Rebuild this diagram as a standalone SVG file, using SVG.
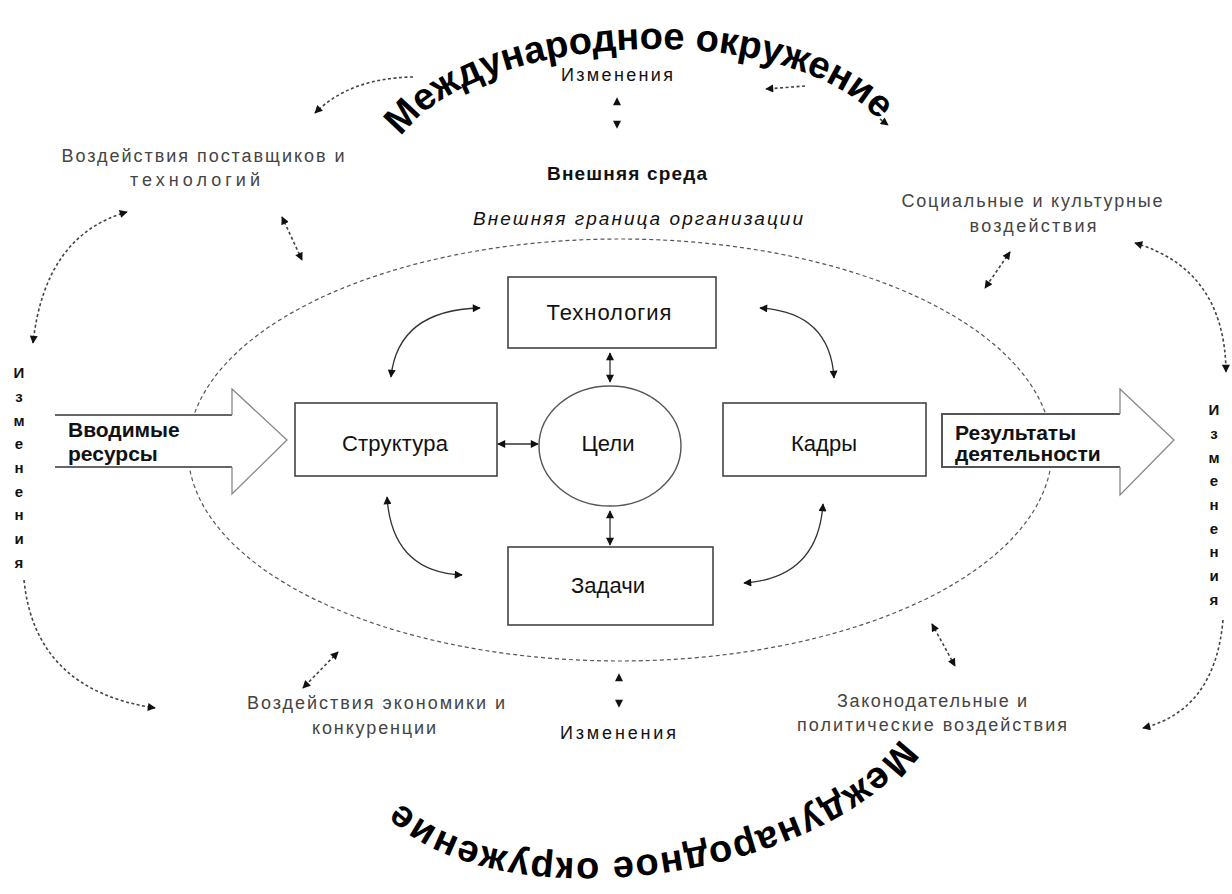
<svg xmlns="http://www.w3.org/2000/svg" width="1232" height="894" viewBox="0 0 1232 894">
<style>
.t{font-family:"Liberation Sans",Arial,sans-serif;fill:#111}
.g{font-family:"Liberation Sans",Arial,sans-serif;fill:#444;font-size:18px}
.m{text-anchor:middle}
.box{fill:#fff;stroke:#444;stroke-width:1.6}
.sol{fill:none;stroke:#333;stroke-width:1.3}
.dsh{fill:none;stroke:#444;stroke-width:1.6;stroke-dasharray:3 2.5}
.arc{font-family:"Liberation Sans",Arial,sans-serif;font-weight:bold;font-size:38px;fill:#000}
.v{font-family:"Liberation Sans",Arial,sans-serif;font-weight:bold;font-size:15px;fill:#111;text-anchor:middle}
.lbl{font-family:"Liberation Sans",Arial,sans-serif;font-size:22px;fill:#111;text-anchor:middle}
.io{font-family:"Liberation Sans",Arial,sans-serif;font-size:21px;font-weight:bold;fill:#111}
</style>
<defs>
<marker id="ah" viewBox="0 0 10 10" refX="9" refY="5" markerWidth="9" markerHeight="8" markerUnits="userSpaceOnUse" orient="auto-start-reverse"><path d="M0,0 L10,5 L0,10 z" fill="#111"/></marker>
<path id="topArc" d="M 401 137 C 479 27 802 16 884 127"/>
<path id="botArc" d="M 900 738 C 818 860 481 910 388 788"/>
</defs>
<rect width="1232" height="894" fill="#fff"/>

<g id="boundary">
<ellipse cx="620" cy="450" rx="432" ry="211" fill="none" stroke="#555" stroke-width="1.2" stroke-dasharray="4 3"/>
</g>

<g id="arc-top"><text class="arc"><textPath href="#topArc">Международное окружение</textPath></text></g>
<g id="arc-bottom"><text class="arc" letter-spacing="1.2"><textPath href="#botArc">Международное окружение</textPath></text></g>

<g id="labels">
<text class="t m" x="617" y="81" font-size="18" textLength="112" fill="#222">Изменения</text>
<text class="t m" x="627" y="180" font-size="19" font-weight="bold" textLength="160">Внешняя среда</text>
<text class="g m" x="203" y="162" textLength="283">Воздействия поставщиков и</text>
<text class="g m" x="195" y="186" textLength="130">технологий</text>
<text class="t m" x="638" y="225" font-size="19" font-style="italic" textLength="330" fill="#333">Внешняя граница организации</text>
<text class="g m" x="1032" y="207" textLength="261">Социальные и культурные</text>
<text class="g m" x="1033" y="232" textLength="127">воздействия</text>
<text class="g m" x="376" y="709" textLength="258">Воздействия экономики и</text>
<text class="g m" x="374" y="734" textLength="124">конкуренции</text>
<text class="t m" x="618" y="739" font-size="18" textLength="116" fill="#222">Изменения</text>
<text class="g m" x="932" y="707" textLength="190">Законодательные и</text>
<text class="g m" x="932" y="731" textLength="270">политические воздействия</text>
</g>

<g id="vert-left">
<text class="v" x="19" y="378">И</text><text class="v" x="19" y="402">з</text><text class="v" x="19" y="426">м</text><text class="v" x="19" y="449">е</text><text class="v" x="19" y="473">н</text><text class="v" x="19" y="497">е</text><text class="v" x="19" y="520">н</text><text class="v" x="19" y="544">и</text><text class="v" x="19" y="568">я</text>
</g>
<g id="vert-right">
<text class="v" x="1214" y="415">И</text><text class="v" x="1214" y="439">з</text><text class="v" x="1214" y="463">м</text><text class="v" x="1214" y="486">е</text><text class="v" x="1214" y="510">н</text><text class="v" x="1214" y="534">е</text><text class="v" x="1214" y="557">н</text><text class="v" x="1214" y="581">и</text><text class="v" x="1214" y="605">я</text>
</g>

<g id="input-arrow">
<path d="M55 415 H232 V389 L287 440 L232 494 V467 H55 Z" fill="#fff" stroke="none"/>
<path d="M55 415 H232" stroke="#666" stroke-width="2.2" fill="none"/>
<path d="M55 467 H232" stroke="#666" stroke-width="2.2" fill="none"/>
<path d="M232 415 V389 L287 440 L232 494 V467" stroke="#888" stroke-width="1.3" fill="none"/>
<text class="io" x="68" y="437">Вводимые</text>
<text class="io" x="68" y="461">ресурсы</text>
</g>

<g id="output-arrow">
<path d="M942 414 H1120 V389 L1174 440 L1120 495 V467 H942 Z" fill="#fff" stroke="none"/>
<path d="M1120 414 H942 V467 H1120" stroke="#555" stroke-width="2" fill="none"/>
<path d="M1120 414 V389 L1174 440 L1120 495 V467" stroke="#888" stroke-width="1.3" fill="none"/>
<text class="io" x="955" y="440">Результаты</text>
<text class="io" x="955" y="461">деятельности</text>
</g>

<g id="node-tech"><rect class="box" x="508" y="277" width="208" height="71"/><text class="lbl" x="609" y="320" textLength="125">Технология</text></g>
<g id="node-struct"><rect class="box" x="295" y="403" width="202" height="73"/><text class="lbl" x="395" y="451" textLength="106">Структура</text></g>
<g id="node-goals"><ellipse cx="610" cy="446" rx="71" ry="60" fill="#fff" stroke="#555" stroke-width="1.4"/><text class="lbl" x="608" y="451">Цели</text></g>
<g id="node-staff"><rect class="box" x="723" y="403" width="203" height="73"/><text class="lbl" x="824" y="451">Кадры</text></g>
<g id="node-tasks"><rect class="box" x="508" y="547" width="205" height="78"/><text class="lbl" x="608" y="593">Задачи</text></g>

<g id="connectors">
<path class="sol" d="M391 377 Q398 310 480 308" marker-start="url(#ah)" marker-end="url(#ah)"/>
<path class="sol" d="M760 308 Q830 312 834 378" marker-start="url(#ah)" marker-end="url(#ah)"/>
<path class="sol" d="M387 497 Q392 572 462 575" marker-start="url(#ah)" marker-end="url(#ah)"/>
<path class="sol" d="M823 504 Q818 578 744 583" marker-start="url(#ah)" marker-end="url(#ah)"/>
<path class="sol" d="M610 353 V382" marker-start="url(#ah)" marker-end="url(#ah)"/>
<path class="sol" d="M610 511 V545" marker-start="url(#ah)" marker-end="url(#ah)"/>
<path class="sol" d="M498 444 H538" stroke-width="2.2" marker-start="url(#ah)" marker-end="url(#ah)"/>

<path class="dsh" d="M413 77 Q350 78 315 113" marker-end="url(#ah)"/>
<path class="dsh" d="M127 212 Q45 235 33 343" marker-start="url(#ah)" marker-end="url(#ah)"/>
<path class="dsh" d="M282 217 L302 260" marker-start="url(#ah)" marker-end="url(#ah)"/>
<path class="dsh" d="M24 580 Q35 690 155 708" marker-end="url(#ah)"/>
<path class="dsh" d="M338 652 L303 688" marker-start="url(#ah)" marker-end="url(#ah)"/>
<path d="M617 98 V128" stroke="none" fill="none" marker-start="url(#ah)" marker-end="url(#ah)"/>
<path d="M619 674 V707" stroke="none" fill="none" marker-start="url(#ah)" marker-end="url(#ah)"/>
<path class="dsh" d="M932 624 L955 666" marker-start="url(#ah)" marker-end="url(#ah)"/>
<path class="dsh" d="M1223 620 Q1215 710 1143 728" marker-end="url(#ah)"/>
<path class="dsh" d="M1135 243 Q1225 270 1226 372" marker-start="url(#ah)" marker-end="url(#ah)"/>
<path class="dsh" d="M1010 252 L985 288" marker-start="url(#ah)" marker-end="url(#ah)"/>
<path class="dsh" d="M805 86 L766 89" marker-end="url(#ah)"/>
<path class="dsh" d="M880 119 L888 125" marker-end="url(#ah)"/>
</g>
</svg>
